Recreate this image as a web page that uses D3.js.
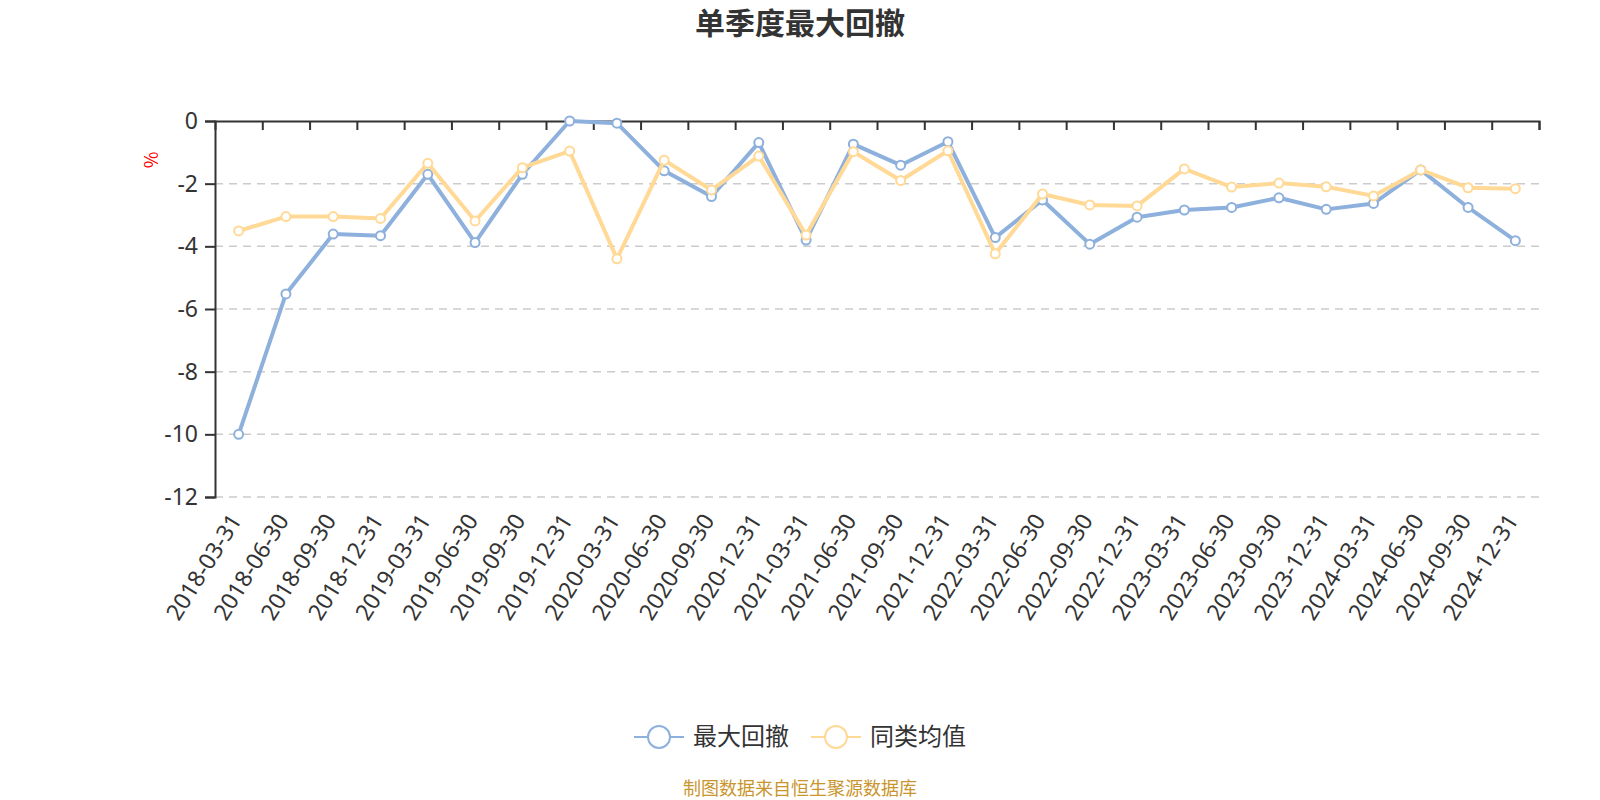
<!DOCTYPE html>
<html>
<head>
<meta charset="utf-8">
<script src="https://cdn.jsdelivr.net/npm/d3@7"></script>
<style>
  body { margin: 0; background: #fff; }
  text { font-family: "Noto Sans CJK SC", "Noto Sans", sans-serif; }
</style>
</head>
<body>
<div id="chart"></div>
<script>
// quarters on the x axis
const quarters = [
  "2018-03-31", "2018-06-30", "2018-09-30", "2018-12-31",
  "2019-03-31", "2019-06-30", "2019-09-30", "2019-12-31",
  "2020-03-31", "2020-06-30", "2020-09-30", "2020-12-31",
  "2021-03-31", "2021-06-30", "2021-09-30", "2021-12-31",
  "2022-03-31", "2022-06-30", "2022-09-30", "2022-12-31",
  "2023-03-31", "2023-06-30", "2023-09-30", "2023-12-31",
  "2024-03-31", "2024-06-30", "2024-09-30", "2024-12-31"
];

// 最大回撤 (%)
const maxDrawdown = [
  -10.0, -5.52, -3.61, -3.66, -1.70, -3.88, -1.70, 0.0,
  -0.07, -1.59, -2.41, -0.69, -3.80, -0.74, -1.41, -0.66,
  -3.72, -2.52, -3.93, -3.07, -2.84, -2.76, -2.45, -2.82,
  -2.63, -1.56, -2.76, -3.82
];

// 同类均值 (%)
const peerAverage = [
  -3.51, -3.05, -3.05, -3.11, -1.35, -3.19, -1.49, -0.96,
  -4.40, -1.25, -2.20, -1.12, -3.64, -0.98, -1.90, -0.95,
  -4.24, -2.33, -2.68, -2.71, -1.53, -2.11, -1.98, -2.10,
  -2.39, -1.56, -2.13, -2.16
];

const yTicks = [0, -2, -4, -6, -8, -10, -12];
const seriesNames = ["最大回撤", "同类均值"];
const colors = ["#8eb0dc", "#ffd995"];

const width = 1600;
const height = 800;
const margin = {left: 215, right: 61, top: 121, bottom: 303};

const svg = d3.select("#chart")
  .append("svg")
  .attr("width", width)
  .attr("height", height);

// title
svg.append("text")
  .attr("x", 800)
  .attr("y", 34)
  .attr("text-anchor", "middle")
  .attr("font-size", "30px")
  .attr("font-weight", "bold")
  .attr("fill", "#333")
  .text("单季度最大回撤");

// scales
const xScale = d3.scaleBand()
  .domain(quarters)
  .range([margin.left, width - margin.right]);

const xIndex = d3.scaleLinear()
  .domain([0, quarters.length])
  .range([margin.left, width - margin.right]);

const yScale = d3.scaleLinear()
  .domain([-12, 0])
  .range([height - margin.bottom, margin.top]);

const cx = d => xScale(d) + xScale.bandwidth() / 2;

// dashed grid lines
svg.append("g")
  .selectAll("line")
  .data(yTicks.filter(v => v !== 0))
  .enter()
  .append("line")
    .attr("x1", margin.left)
    .attr("x2", width - margin.right)
    .attr("y1", d => yScale(d))
    .attr("y2", d => yScale(d))
    .attr("stroke", "#cccccc")
    .attr("stroke-width", 1.5)
    .attr("stroke-dasharray", "8,6");

// y axis
const yAxis = svg.append("g")
  .attr("transform", `translate(${margin.left},0)`)
  .call(d3.axisLeft(yScale).tickValues(yTicks).tickSize(10).tickPadding(7)
    .tickFormat(d => String(d)));
yAxis.select(".domain").attr("stroke", "#333").attr("stroke-width", 2);
yAxis.selectAll(".tick line").attr("stroke", "#333").attr("stroke-width", 2);
yAxis.selectAll("text")
  .attr("font-size", "23px")
  .attr("fill", "#333")
  .style("font-family", '"Noto Sans", sans-serif');

// unit label
svg.append("text")
  .attr("transform", "translate(158,160) rotate(-90)")
  .attr("text-anchor", "middle")
  .attr("font-size", "18px")
  .attr("fill", "red")
  .text("%");

// x axis line on zero with boundary ticks
const xAxisTop = svg.append("g")
  .attr("transform", `translate(0,${yScale(0)})`)
  .call(d3.axisBottom(xIndex).tickValues(d3.range(1, quarters.length + 1)).tickSize(9).tickFormat(""));
xAxisTop.select(".domain").attr("stroke", "#333").attr("stroke-width", 2);
xAxisTop.selectAll(".tick line").attr("stroke", "#333").attr("stroke-width", 2);

// x labels at the bottom
const xLabels = svg.append("g")
  .attr("transform", `translate(0,${height - margin.bottom})`)
  .call(d3.axisBottom(xScale).tickSize(0));
xLabels.select(".domain").remove();
xLabels.selectAll("text")
  .attr("x", 0)
  .attr("y", 0)
  .attr("dy", "0.35em")
  .attr("text-anchor", "end")
  .attr("transform", "translate(-3,19) rotate(-58)")
  .attr("font-size", "23px")
  .attr("fill", "#333")
  .style("font-family", '"Noto Sans", sans-serif');

// lines + markers
const lineGen = d3.line()
  .x((d, i) => cx(quarters[i]))
  .y(d => yScale(d));

[maxDrawdown, peerAverage].forEach((values, k) => {
  svg.append("path")
    .datum(values)
    .attr("fill", "none")
    .attr("stroke", colors[k])
    .attr("stroke-width", 4)
    .attr("stroke-linejoin", "round")
    .attr("d", lineGen);

  svg.append("g")
    .selectAll("circle")
    .data(values)
    .enter()
    .append("circle")
      .attr("cx", (d, i) => cx(quarters[i]))
      .attr("cy", d => yScale(d))
      .attr("r", 4.5)
      .attr("fill", "#fff")
      .attr("stroke", colors[k])
      .attr("stroke-width", 2);
});

// legend
const legendX = [634, 811];
seriesNames.forEach((name, k) => {
  const g = svg.append("g").attr("transform", `translate(${legendX[k]},737)`);
  g.append("line")
    .attr("x1", 0).attr("x2", 50)
    .attr("stroke", colors[k])
    .attr("stroke-width", 2);
  g.append("circle")
    .attr("cx", 25)
    .attr("r", 11)
    .attr("fill", "#fff")
    .attr("stroke", colors[k])
    .attr("stroke-width", 2);
  g.append("text")
    .attr("x", 59)
    .attr("dy", "0.35em")
    .attr("font-size", "24px")
    .attr("fill", "#333")
    .text(name);
});

// source note
svg.append("text")
  .attr("x", 800)
  .attr("y", 795)
  .attr("text-anchor", "middle")
  .attr("font-size", "18px")
  .attr("fill", "#c9952d")
  .text("制图数据来自恒生聚源数据库");
</script>
</body>
</html>
